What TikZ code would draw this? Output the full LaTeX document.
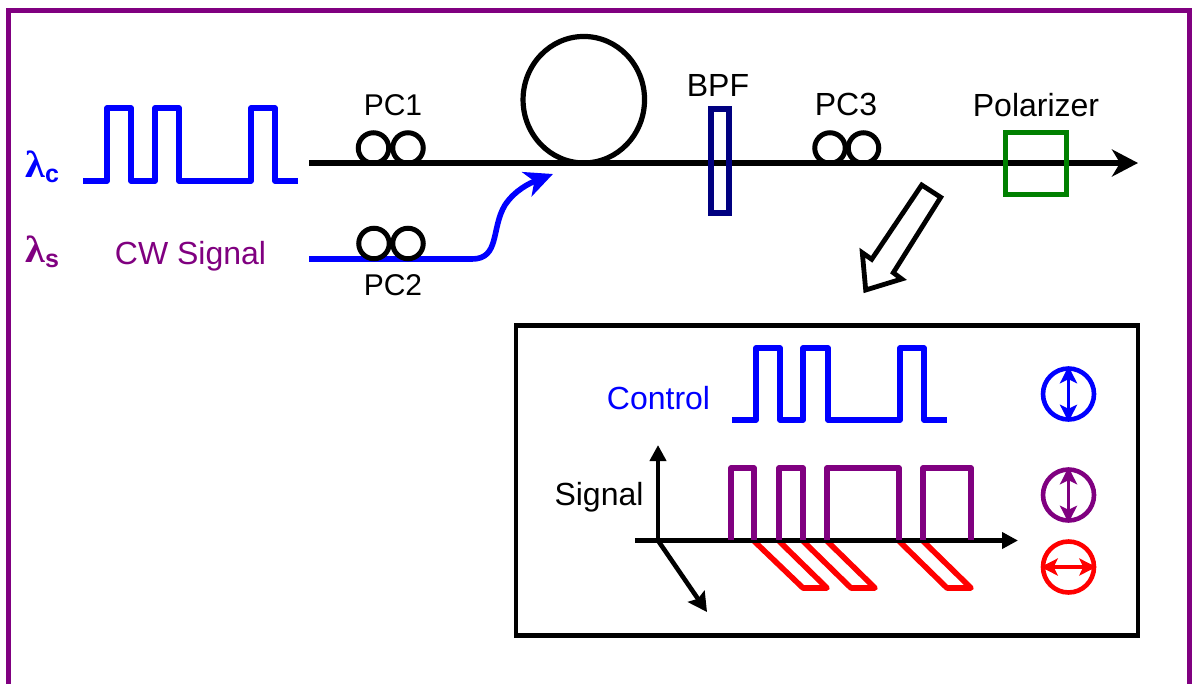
\documentclass[tikz,border=0pt]{standalone}
\usepackage{fontspec}
\setmainfont{Liberation Sans}
\newfontfamily\lamfont{Liberation Serif}
\usetikzlibrary{arrows.meta,shapes.geometric}
\definecolor{sigpurple}{RGB}{128,0,128}
\definecolor{ctlblue}{RGB}{0,0,255}
\definecolor{polgreen}{RGB}{0,128,0}
\definecolor{bpfnavy}{RGB}{0,0,128}
\definecolor{ortho}{RGB}{255,0,0}
\tikzset{
  label/.style={inner sep=0pt,font=\fontsize{30}{30}\selectfont},
  biglabel/.style={inner sep=0pt,font=\fontsize{32}{32}\selectfont},
  wave/.style={line width=5.6pt,line join=round},
  coil/.style={circle,draw=black,line width=5pt,minimum size=30.5pt,inner sep=0pt,fill=none},
  fibre/.style={line width=5.4pt,black},
  axis/.style={line width=4.6pt,black},
  polcirc/.style={circle,line width=4.6pt,minimum size=51pt,inner sep=0pt},
  polarrow/.style={line width=3.4pt,{Stealth[length=17pt,width=17pt,inset=4pt]}-{Stealth[length=17pt,width=17pt,inset=4pt]}},
  lam/.style={inner sep=0pt,anchor=base west}
}
\newcommand{\lamlabel}[1]{{\lamfont\bfseries\scalebox{1.12}[1.05]{\fontsize{36}{36}\selectfont λ}}\raisebox{-5pt}{\fontsize{25}{25}\selectfont\bfseries #1}}
\begin{document}
\begin{tikzpicture}[x=1pt,y=-1pt]
\useasboundingbox (0,0) rectangle (1193,683);
\fill[white] (0,0) rectangle (1193,683);
% frame (runs off the bottom of the page)
\draw[sigpurple,line width=4.6pt] (8.4,700) -- (8.4,10.5) -- (1189.4,10.5) -- (1189.4,700);

% main fibre
\coordinate (fibreL) at (309,163);
\coordinate (fibreR) at (1138,163);
\draw[fibre,-{Stealth[length=26pt,width=27pt,inset=8pt]}] (fibreL) -- (fibreR);

% fibre ring
\node[ellipse,draw=black,line width=5.2pt,minimum width=121.5pt,minimum height=126.5pt,inner sep=0pt] (ring) at (583.8,99.7) {};

% input control pulses
\draw[wave,ctlblue] (83,181) -- (107,181) -- (107,108) -- (131,108) -- (131,181) -- (155,181) -- (155,108) -- (179,108) -- (179,181) -- (251,181) -- (251,108) -- (275,108) -- (275,181) -- (298,181);

% CW signal branch
\coordinate (cwL) at (309,259);
\coordinate (cwM) at (472,259);
\coordinate (cwT) at (553,174);
\draw[line width=5.6pt,ctlblue,-{Stealth[length=28pt,width=26pt,inset=8pt]}] (cwL) -- (cwM) .. controls (500,259) and (491,228) .. (505,205) .. controls (515,190) and (530,183) .. (cwT);

% polarization controllers
\node[coil] (pc1a) at (373.5,148) {};
\node[coil] (pc1b) at (408,148) {};
\node[coil] (pc2a) at (374,243.5) {};
\node[coil] (pc2b) at (408,243.5) {};
\node[coil] (pc3a) at (830,148) {};
\node[coil] (pc3b) at (863.5,148) {};

% BPF, polarizer
\node[draw=bpfnavy,line width=5.4pt,minimum width=18pt,minimum height=104pt,inner sep=0pt] (bpf) at (720,161) {};
\node[draw=polgreen,line width=5.4pt,minimum width=61pt,minimum height=62pt,inner sep=0pt] (pol) at (1036,163.5) {};

% labels
\node[label] (tpc1) at (393,105) {PC1};
\node[label] (tpc2) at (393,285) {PC2};
\node[biglabel] (tpc3) at (846,104) {PC3};
\node[biglabel] (tbpf) at (718,85) {BPF};
\node[biglabel] (tpol) at (1036,105) {Polarizer};
\node[biglabel,text=sigpurple] (tcw) at (190.5,256) {CW Signal};
\node[lam,text=ctlblue] (lc) at (25,177) {\lamlabel{c}};
\node[lam,text=sigpurple] (ls) at (25,262) {\lamlabel{s}};

% block arrow
\draw[line width=4.8pt,black,fill=white,line join=miter] (921.7,185) -- (940.7,197.3) -- (893.3,272.7) -- (901.7,279) -- (865.7,290) -- (862.3,252.7) -- (871.7,259.3) -- cycle;

% inset box
\node[draw=black,line width=4.4pt,minimum width=622.5pt,minimum height=310pt,inner sep=0pt] (inset) at (827,480.5) {};
\node[biglabel,text=ctlblue] (tctl) at (658.5,398) {Control};
\node[biglabel] (tsig) at (599,497) {Signal};

% inset control
\draw[wave,ctlblue] (732,420) -- (756,420) -- (756,348) -- (780,348) -- (780,420) -- (803,420) -- (803,348) -- (828,348) -- (828,420) -- (900,420) -- (900,348) -- (924,348) -- (924,420) -- (947,420);

% red orthogonal component
\draw[wave,ortho] (754,541) -- (803,588) -- (827,588) -- (779,541);
\draw[wave,ortho] (803,541) -- (851,588) -- (875,588) -- (827,541);
\draw[wave,ortho] (899,541) -- (947,588) -- (971,588) -- (923,541);

% axes
\coordinate (o) at (658,540.5);
\coordinate (axL) at (635,540.5);
\coordinate (axR) at (1018,540.5);
\coordinate (axU) at (658,445);
\coordinate (axD) at (707,612);
\draw[axis,-{Triangle[length=16pt,width=16pt]}] (axL) -- (axR);
\draw[axis,-{Triangle[length=16pt,width=16pt]}] (o) -- (axU);
\draw[axis,-{Stealth[length=19pt,width=20pt,inset=3pt]}] (o) -- (axD);

% purple signal
\draw[wave,sigpurple] (731,540) -- (731,468) -- (754,468) -- (754,540);
\draw[wave,sigpurple] (779,540) -- (779,468) -- (803,468) -- (803,540);
\draw[wave,sigpurple] (827,540) -- (827,468) -- (899,468) -- (899,540);
\draw[wave,sigpurple] (923,540) -- (923,468) -- (971,468) -- (971,540);

% polarization states
\node[polcirc,draw=ctlblue] (pb) at (1068.5,394) {};
\draw[polarrow,ctlblue] (pb.north) -- (pb.south);
\node[polcirc,draw=sigpurple] (pp) at (1068.5,495) {};
\draw[polarrow,sigpurple] (pp.north) -- (pp.south);
\node[polcirc,draw=ortho] (pr) at (1068.5,567) {};
\draw[polarrow,ortho] (pr.west) -- (pr.east);
\end{tikzpicture}
\end{document}
